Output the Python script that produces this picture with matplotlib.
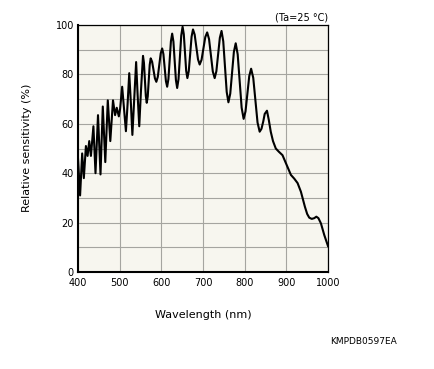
import matplotlib
matplotlib.use("Agg")
import matplotlib.pyplot as plt

# wavelength (nm) and relative sensitivity (%)
wavelength = [
    400, 405, 410, 414, 419, 423, 427, 431, 437, 442, 448, 454, 459.5, 465.5,
    471.5, 477.5, 484, 489, 493, 498, 501, 506, 510, 515, 519, 523, 527, 530.5,
    535, 539.5, 543, 547, 551, 556,
    558.25, 560.5, 562.75, 565, 567.4, 569.75, 572.1, 574.5, 577.9, 581.25,
    584.6, 588, 591.5, 595, 598.5, 602, 605, 608, 611, 614, 617, 620, 623, 626,
    629, 632, 635, 638, 641.25, 644.5, 647.75, 651, 653.9, 656.75, 659.6, 662.5,
    665.9, 669.25, 672.6, 676, 680, 684, 688, 692, 696.5, 701, 705.5, 710,
    714.5, 719, 723.5, 728, 732.1, 736.25, 740.4, 744.5, 748.6, 752.75, 756.9,
    761, 765.4, 769.75, 774.1, 778.5, 783.25, 788, 792.75, 797.5, 802, 806.5,
    811, 815.5, 820.6, 825.75, 830.9, 836, 840.4, 844.75, 848.1, 853.5, 858,
    862.6, 868, 874.7, 882, 890.8, 901, 911, 919, 927, 935, 944.6, 950, 955,
    961, 967, 972, 977, 983, 991, 1000,
]
sensitivity = [
    46, 31, 48, 38, 51, 47, 53, 47, 59, 40, 63.5, 39.5, 67, 44.5,
    69.5, 53, 69.5, 63.5, 66.5, 63, 66, 75, 67, 57, 68, 80.5, 68, 55.5,
    70, 85, 72, 59, 73, 87.5,
    84.7, 78, 71.3, 68.5, 71.1, 77.5, 83.9, 86.5, 85.1, 81.75,
    78.4, 77, 79, 83.75, 88.5, 90.5, 88.2, 82.75, 77.3, 75, 78.1, 85.75, 93.4, 96.5,
    93.3, 85.5, 77.7, 74.5, 78.1, 86.9, 95.7, 99.3, 96.3, 88.9, 81.5, 78.5,
    81.4, 88.35, 95.3, 98.2, 96.1, 91.1, 86.1, 84, 85.9, 90.5, 95.1, 97,
    94.3, 87.75, 81.2, 78.5, 81.3, 88.05, 94.8, 97.6, 93.4, 83.15, 72.9,
    68.7, 72.2, 80.65, 89.1, 92.6, 88.1, 77.3, 66.5, 62, 65, 72.15,
    79.3, 82.3, 78.6, 69.55, 60.5, 56.8, 58, 61.05, 64, 65.3, 61.5,
    56.8, 53, 50, 48.7, 47.3, 43.3, 39.3, 37.8, 36, 32.5, 26.4, 23.5, 22,
    21.5, 21.8, 22.4, 21.8, 19.7, 15, 10.5,
]

x_ticks = [400, 500, 600, 700, 800, 900, 1000]
y_ticks = [0, 20, 40, 60, 80, 100]

plt.rcParams["font.family"] = "DejaVu Sans"

fig = plt.figure(figsize=(4.35, 3.69), dpi=100)
ax = fig.add_axes([78 / 435, 97 / 369, 250 / 435, 247 / 369])
ax.set_facecolor("#f7f6ef")

ax.plot(wavelength, sensitivity, color="black", lw=1.5, zorder=3)

ax.set_xlim(400, 1000)
ax.set_ylim(0, 100)
ax.set_xticks(x_ticks)
ax.set_yticks(y_ticks)
ax.set_yticks(range(10, 100, 20), minor=True)
ax.grid(True, which="both", color="#a5a5a0", lw=0.8)
ax.tick_params(which="both", length=0, labelsize=7)
ax.tick_params(axis="x", pad=4)
ax.tick_params(axis="y", pad=3)

for side in ["left", "bottom"]:
    ax.spines[side].set_linewidth(1.5)
for side in ["top", "right"]:
    ax.spines[side].set_linewidth(0.9)

ax.text(1.0, 1.012, "(Ta=25 °C)", transform=ax.transAxes,
        ha="right", va="bottom", fontsize=7)

fig.text(203 / 435, 1 - 315 / 369, "Wavelength (nm)", ha="center",
         va="center", fontsize=8)
fig.text(27 / 435, 1 - 148 / 369, "Relative sensitivity (%)", rotation=90,
         ha="center", va="center", fontsize=8)
fig.text(397 / 435, 1 - 341 / 369, "KMPDB0597EA", ha="right", va="center",
         fontsize=6.5)

fig.savefig("out.png", dpi=100)
